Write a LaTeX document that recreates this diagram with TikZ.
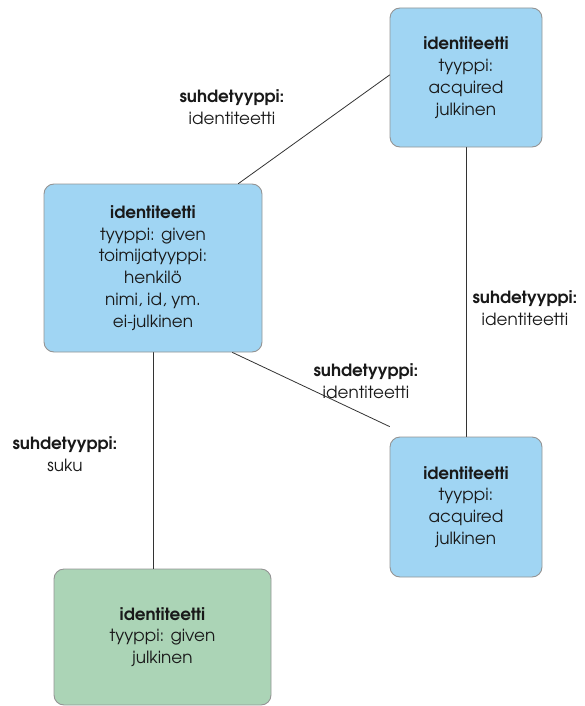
\documentclass[tikz,border=0pt]{standalone}
\usepackage{fontspec}
\setmainfont{TeX Gyre Adventor}
\definecolor{sininen}{RGB}{160,213,243}
\definecolor{vihrea}{RGB}{171,212,182}
\begin{document}
\begin{tikzpicture}[x=1pt,y=-1pt, line join=round, line cap=round,
		box/.style={draw=black!42, line width=.9pt, rounded corners=10pt, align=center, text=black!90, font=\fontsize{16.8}{21.8}\selectfont, inner sep=0pt},
		bluebox/.style={box, fill=sininen},
		greenbox/.style={box, fill=vihrea},
		lbl/.style={align=center, text=black!90, font=\fontsize{16.8}{21.8}\selectfont},
		yhteys/.style={draw=black!80, line width=.8pt}]
	\useasboundingbox (0,0) rectangle (584,706);
	\node[bluebox, minimum width=152pt, minimum height=139pt] (ylaoikea) at (466,77.5) {\textbf{identiteetti}\\tyyppi:\\acquired\\julkinen};
	\node[bluebox, minimum width=218pt, minimum height=168pt] (henkilo) at (153,268) {\textbf{identiteetti}\\tyyppi: given\\toimijatyyppi:\\henkilö\\nimi, id, ym.\\ei-julkinen};
	\node[bluebox, minimum width=152pt, minimum height=140pt] (alaoikea) at (466,507) {\textbf{identiteetti}\\tyyppi:\\acquired\\julkinen};
	\node[greenbox, minimum width=217pt, minimum height=136pt] (suku) at (162.5,637) {\textbf{identiteetti}\\tyyppi: given\\julkinen};
	% suhteet
	\draw[yhteys] ([xshift=-24pt]henkilo.north east) -- ([yshift=2.5pt]ylaoikea.west);
	\draw[yhteys] (ylaoikea.south) -- (alaoikea.north);
	\draw[yhteys] ([xshift=-30pt]henkilo.south east) -- ([yshift=10pt]alaoikea.north west);
	\draw[yhteys] (henkilo.south) -- (henkilo.south |- suku.north);
	\node[lbl] (s1) at (232,107) {\textbf{suhdetyyppi:}\\identiteetti};
	\node[lbl] (s2) at (525,308) {\textbf{suhdetyyppi:}\\identiteetti};
	\node[lbl] (s3) at (366,381) {\textbf{suhdetyyppi:}\\identiteetti};
	\node[lbl] (s4) at (65,454) {\textbf{suhdetyyppi:}\\suku};
\end{tikzpicture}
\end{document}
